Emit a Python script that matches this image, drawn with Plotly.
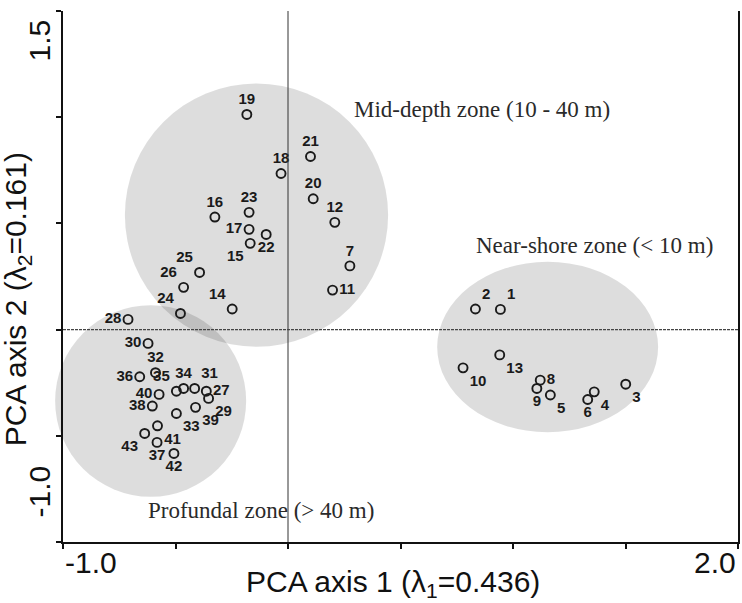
import plotly.graph_objects as go

# ---- data ----
site_ids = [str(i) for i in range(1, 44)]
pca1 = [0.944, 0.833, 1.501, 1.361, 1.166, 1.332, 0.275, 1.121, 1.106, 0.778,
        0.198, 0.208, 0.941, -0.248, -0.168, -0.325, -0.173, -0.031, -0.183, 0.112,
        0.100, -0.097, -0.173, -0.478, -0.393, -0.464, -0.363, -0.711, -0.353, -0.622,
        -0.415, -0.589, -0.496, -0.464, -0.496, -0.659, -0.582, -0.603, -0.411, -0.573,
        -0.580, -0.507, -0.637]
pca2 = [0.095, 0.097, -0.257, -0.293, -0.308, -0.329, 0.300, -0.238, -0.277, -0.180,
        0.186, 0.505, -0.119, 0.097, 0.406, 0.530, 0.472, 0.735, 1.013, 0.616,
        0.815, 0.448, 0.552, 0.076, 0.269, 0.199, -0.290, 0.048, -0.324, -0.065,
        -0.277, -0.203, -0.395, -0.277, -0.290, -0.222, -0.531, -0.360, -0.366, -0.305,
        -0.453, -0.583, -0.489]
label_pos = ["top right", "top right", "bottom right", "bottom right", "bottom right",
             "bottom center", "top center", "middle right", "bottom center", "bottom right",
             "middle right", "top center", "bottom right", "top left", "bottom left",
             "top center", "middle left", "top center", "top center", "top center",
             "top center", "bottom center", "top center", "top left", "top left",
             "top left", "middle right", "middle left", "bottom right", "middle left",
             "top right", "top center", "bottom right", "top center", "top left",
             "middle left", "bottom center", "middle left", "bottom right", "middle left",
             "bottom right", "bottom center", "bottom left"]

zone_names = ["Mid-depth zone (10 - 40 m)", "Near-shore zone (< 10 m)", "Profundal zone (> 40 m)"]
zone_x0 = [-0.725, 0.663, -1.035]
zone_x1 = [0.445, 1.645, -0.186]
zone_y0 = [-0.081, -0.483, -0.787]
zone_y1 = [1.159, 0.319, 0.115]
zone_label_x = [0.285, 0.826, -0.629]
zone_label_y = [1.038, 0.398, -0.850]

x_range = [-1.0, 2.0]
y_range = [-1.0, 1.5]
x_tick_labels = ["-1.0", "2.0"]
y_tick_labels = ["-1.0", "1.5"]
x_title = "PCA axis 1 (λ<sub>1</sub>=0.436)"
y_title = "PCA axis 2 (λ<sub>2</sub>=0.161)"

def xp(v):
    return (v - x_range[0]) / (x_range[1] - x_range[0])

def yp(v):
    return (v - y_range[0]) / (y_range[1] - y_range[0])

fig = go.Figure()

fig.add_trace(go.Scatter(
    x=pca1, y=pca2, mode="markers+text", text=site_ids, textposition=label_pos,
    textfont=dict(family="Liberation Sans, Arial", size=15, color="#1a1a1a", weight="bold"),
    marker=dict(symbol="circle-open", size=9, color="#1a1a1a", line=dict(width=1.9, color="#1a1a1a")),
    cliponaxis=False, showlegend=False, hoverinfo="skip"))

shapes = []
for i in range(len(zone_names)):
    shapes.append(dict(type="circle", xref="paper", yref="paper",
                       x0=xp(zone_x0[i]), x1=xp(zone_x1[i]),
                       y0=yp(zone_y0[i]), y1=yp(zone_y1[i]),
                       fillcolor="rgba(0,0,0,0.135)", line=dict(width=0), layer="below"))
shapes.append(dict(type="line", xref="x", yref="y", x0=0, x1=0, y0=y_range[0], y1=y_range[1],
                   line=dict(color="#333", width=1), layer="above"))
shapes.append(dict(type="line", xref="x", yref="y", x0=x_range[0], x1=x_range[1], y0=0, y1=0,
                   line=dict(color="#444", width=1.2, dash="3px,1px"), layer="above"))

annotations = []
for i, name in enumerate(zone_names):
    annotations.append(dict(x=zone_label_x[i], y=zone_label_y[i], xref="x", yref="y",
                            text=name, showarrow=False, xanchor="left", yanchor="middle",
                            font=dict(family="Liberation Serif, Times New Roman", size=23, color="#2a2a2a")))
tick_font = dict(family="Liberation Sans, Arial", size=30, color="#111")
annotations.append(dict(x=0, y=0, xref="paper", yref="paper", text=x_tick_labels[0], showarrow=False,
                        xanchor="left", yanchor="top", yshift=-2, font=tick_font))
annotations.append(dict(x=1, y=0, xref="paper", yref="paper", text=x_tick_labels[1], showarrow=False,
                        xanchor="right", yanchor="top", yshift=-2, font=tick_font))
annotations.append(dict(x=0, y=0, xref="paper", yref="paper", text=y_tick_labels[0], showarrow=False,
                        xanchor="right", yanchor="bottom", textangle=-90, xshift=-6, yshift=22, font=tick_font))
annotations.append(dict(x=0, y=1, xref="paper", yref="paper", text=y_tick_labels[1], showarrow=False,
                        xanchor="right", yanchor="top", textangle=-90, xshift=-6, yshift=-7, font=tick_font))
annotations.append(dict(x=0.489, y=0, xref="paper", yref="paper", text=x_title, showarrow=False,
                        xanchor="center", yanchor="top", yshift=-21, font=tick_font))
annotations.append(dict(x=0, y=0.456, xref="paper", yref="paper", text=y_title, showarrow=False,
                        xanchor="right", yanchor="middle", textangle=-90, xshift=-25, font=tick_font))

fig.update_layout(
    width=742, height=603, margin=dict(l=63, r=2, t=11, b=61),
    paper_bgcolor="white", plot_bgcolor="white",
    shapes=shapes, annotations=annotations,
    xaxis=dict(range=x_range, dtick=0.5, showgrid=False, zeroline=False, showticklabels=False,
               ticks="outside", ticklen=5, tickwidth=1.5, tickcolor="#111",
               showline=True, linecolor="#111", linewidth=2),
    yaxis=dict(range=y_range, dtick=0.5, showgrid=False, zeroline=False, showticklabels=False,
               ticks="outside", ticklen=5, tickwidth=1.5, tickcolor="#111",
               showline=True, linecolor="#111", linewidth=2, mirror=True),
)

fig.write_html("out.html")
